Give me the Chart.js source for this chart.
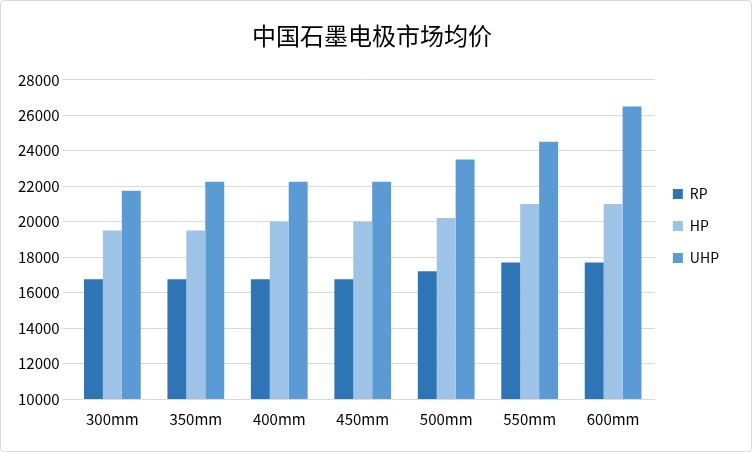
<!DOCTYPE html>
<html><head><meta charset="utf-8">
<script src="https://cdn.jsdelivr.net/npm/chart.js@4/dist/chart.umd.min.js"></script>
<style>html,body{margin:0;padding:0;background:#fff}
#w{position:absolute;left:0;top:0;width:750px;height:450px;border:1px solid #d9d9d9;border-radius:4px}</style>
</head><body><div id="w"><canvas id="c"></canvas></div>
<script>
const categories=['300mm','350mm','400mm','450mm','500mm','550mm','600mm'];
const rp=[16750,16750,16750,16750,17200,17700,17700];
const hp=[19500,19500,20000,20000,20200,21000,21000];
const uhp=[21750,22250,22250,22250,23500,24500,26500];
const yTicks=[10000,12000,14000,16000,18000,20000,22000,24000,26000,28000];
const F='"Microsoft YaHei","Noto Sans CJK SC",sans-serif';
new Chart(document.getElementById('c'),{type:'bar',
data:{labels:categories,datasets:[
{label:'RP',data:rp,backgroundColor:'#2E75B6'},
{label:'HP',data:hp,backgroundColor:'#9DC3E6'},
{label:'UHP',data:uhp,backgroundColor:'#5B9BD5'}]},
options:{responsive:true,maintainAspectRatio:false,animation:false,
layout:{padding:{left:14,right:22,top:20,bottom:20}},
datasets:{bar:{categoryPercentage:0.68,barPercentage:1}},
plugins:{title:{display:true,text:'中国石墨电极市场均价',font:{family:F,size:24,weight:'normal'},color:'#000',padding:{top:0,bottom:30}},
legend:{position:'right',labels:{boxWidth:10,boxHeight:10,font:{family:F,size:14},color:'#000',padding:18}}},
scales:{x:{grid:{display:false},border:{color:'#d9d9d9'},ticks:{font:{family:F,size:15},color:'#000'}},
y:{min:10000,max:28000,afterBuildTicks:a=>{a.ticks=yTicks.map(v=>({value:v}))},
grid:{color:'#d9d9d9'},border:{display:false},ticks:{font:{family:F,size:15},color:'#000',callback:v=>String(v)}}}}});
</script></body></html>
